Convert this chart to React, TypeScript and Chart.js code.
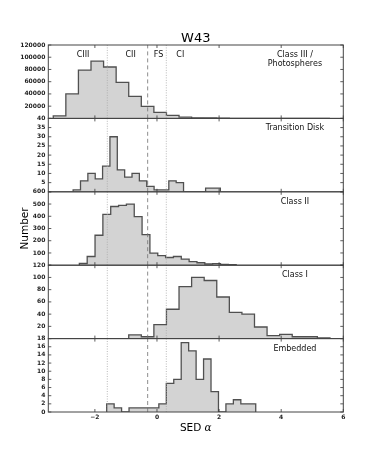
import React, { useEffect, useRef } from "react";
import { Chart, registerables } from "chart.js";
Chart.register(...registerables);

// ---- data ----
const chartTitle = "W43";
const panelNames = [["Class III /", "Photospheres"], ["Transition Disk"], ["Class II"], ["Class I"], ["Embedded"]];
const panelMax = [120000, 40, 600, 120, 18];
const panelStep = [20000, 5, 100, 20, 2];

const binStart = [-3.34, -2.70, -2.50, -3.34, -1.62];
const binWidth = [0.405, 0.237, 0.2525, 0.405, 0.24];

const classIIICounts = [4000, 40000, 79000, 93500, 84000, 59000, 36000, 19500, 9700, 4800, 2000, 1000, 800, 400, 150, 50, 0, 0, 0, 0, 0, 0];
const transitionDiskCounts = [1, 6, 10, 7, 14, 30, 12, 8, 10, 6, 3, 1, 1, 6, 5, 0, 0, 0, 2, 2];
const classIICounts = [14, 71, 245, 415, 480, 489, 500, 397, 250, 98, 79, 63, 71, 50, 30, 20, 10, 13, 7, 4];
const classICounts = [0, 0, 0, 0, 0, 0, 6, 3, 23, 48, 85, 100, 95, 68, 43, 40, 19, 5, 7, 3, 3, 1];
const embeddedCounts = [2, 1, 0, 1, 1, 1, 1, 2, 7, 8, 17, 15, 8, 13, 5, 0, 2, 3, 2, 2];
const panelCounts = [classIIICounts, transitionDiskCounts, classIICounts, classICounts, embeddedCounts];

const xMin = -3.5;
const xMax = 6;
const xTickValues = [-2, 0, 2, 4, 6];

const boundaryValues = [-1.6, -0.3, 0.3];
const boundaryKinds = ["dotted", "dashed", "dotted"];

const regionLabels = ["CIII", "CII", "FS", "CI"];
const regionLabelX = [-2.38, -0.85, 0.05, 0.75];

const xAxisTitle = "SED ";
const xAxisSymbol = "α";
const yAxisTitle = "Number";

const FONT = "'DejaVu Sans', sans-serif";

function histPoints(start: number, width: number, counts: number[]) {
  const pts: { x: number; y: number }[] = [{ x: start, y: 0 }];
  counts.forEach((c, i) => {
    pts.push({ x: start + i * width, y: c });
    pts.push({ x: start + (i + 1) * width, y: c });
  });
  pts.push({ x: start + counts.length * width, y: 0 });
  return pts;
}

const decorPlugin = {
  id: "decor",
  afterDatasetsDraw(chart: any) {
    const ctx = chart.ctx;
    const { left, right } = chart.chartArea;
    const xs = chart.scales.x;
    ctx.save();
    for (let p = 0; p < 5; p++) {
      const ys = chart.scales["y" + p];
      ctx.strokeStyle = "#333";
      ctx.lineWidth = 0.8;
      ctx.beginPath();
      ys.ticks.forEach((t: any) => {
        const y = ys.getPixelForValue(t.value);
        ctx.moveTo(left, y);
        ctx.lineTo(left + 3, y);
        ctx.moveTo(right, y);
        ctx.lineTo(right - 3, y);
      });
      xs.ticks.forEach((t: any) => {
        const x = xs.getPixelForValue(t.value);
        ctx.moveTo(x, ys.top);
        ctx.lineTo(x, ys.top + 3);
        ctx.moveTo(x, ys.bottom);
        ctx.lineTo(x, ys.bottom - 3);
      });
      ctx.stroke();
      ctx.lineWidth = 1;
      ctx.strokeStyle = "#444";
      ctx.strokeRect(left, ys.top, right - left, ys.bottom - ys.top);

      // panel label
      ctx.fillStyle = "#111";
      ctx.font = `8px ${FONT}`;
      ctx.textAlign = "center";
      ctx.textBaseline = "middle";
      const cx = left + (right - left) * 0.836;
      panelNames[p].forEach((line, i) => {
        ctx.fillText(line, cx, ys.top + 10 + i * 9);
      });
      if (p === 0) {
        regionLabels.forEach((lab, i) => {
          ctx.fillText(lab, xs.getPixelForValue(regionLabelX[i]), ys.top + 10);
        });
      }
    }
    ctx.restore();
  },
  afterDraw(chart: any) {
    const ctx = chart.ctx;
    const { left, right, top, bottom } = chart.chartArea;
    ctx.save();
    ctx.fillStyle = "#000";
    ctx.textAlign = "center";
    ctx.textBaseline = "middle";
    ctx.font = `13px ${FONT}`;
    ctx.fillText(chartTitle, (left + right) / 2, 38.5);

    ctx.font = `10.5px ${FONT}`;
    const w1 = ctx.measureText(xAxisTitle).width;
    ctx.font = `italic 10.5px 'DejaVu Serif', serif`;
    const w2 = ctx.measureText(xAxisSymbol).width;
    const sx = (left + right) / 2 - (w1 + w2) / 2;
    ctx.textAlign = "left";
    ctx.font = `10.5px ${FONT}`;
    ctx.fillText(xAxisTitle, sx, 428);
    ctx.font = `italic 10.5px 'DejaVu Serif', serif`;
    ctx.fillText(xAxisSymbol, sx + w1, 428);

    ctx.textAlign = "center";
    ctx.font = `10.5px ${FONT}`;
    ctx.translate(25, (top + bottom) / 2);
    ctx.rotate(-Math.PI / 2);
    ctx.fillText(yAxisTitle, 0, 0);
    ctx.restore();
  },
};

export default function App() {
  const ref = useRef<HTMLCanvasElement>(null);
  useEffect(() => {
    if (!ref.current) return;
    const datasets: any[] = [];
    for (let p = 0; p < 5; p++) {
      datasets.push({
        data: histPoints(binStart[p], binWidth[p], panelCounts[p]),
        yAxisID: "y" + p,
        borderColor: "#505050",
        borderWidth: 1.3,
        backgroundColor: "#d3d3d3",
        fill: "origin",
        pointRadius: 0,
        tension: 0,
        order: 2,
      });
      boundaryValues.forEach((b, i) => {
        const dotted = boundaryKinds[i] === "dotted";
        datasets.push({
          data: [
            { x: b, y: 0 },
            { x: b, y: panelMax[p] },
          ],
          yAxisID: "y" + p,
          borderColor: dotted ? "#a8a8a8" : "#707070",
          borderWidth: 0.8,
          borderDash: dotted ? [1, 1.5] : [4, 3],
          fill: false,
          pointRadius: 0,
          order: 1,
        });
      });
    }
    const scales: any = {
      x: {
        type: "linear",
        min: xMin,
        max: xMax,
        afterBuildTicks: (s: any) => {
          s.ticks = xTickValues.map((v) => ({ value: v }));
        },
        afterFit: (s: any) => {
          s.height = 46;
        },
        grid: { display: false, drawTicks: false },
        border: { display: false },
        ticks: {
          padding: 2,
          color: "#222",
          font: { family: FONT, size: 6, weight: "bold" },
          callback: (v: any) => (v < 0 ? "\u2212" + Math.abs(v) : String(v)),
        },
      },
    };
    // stacked left axes are laid out with the last-defined on top, so add bottom panel first
    for (let p = 4; p >= 0; p--) {
      scales["y" + p] = {
        type: "linear",
        position: "left",
        stack: "panels",
        stackWeight: 1,
        min: 0,
        max: panelMax[p],
        afterFit: (s: any) => {
          s.width = 48.3;
        },
        grid: { display: false, drawTicks: false },
        border: { display: false },
        ticks: {
          stepSize: panelStep[p],
          autoSkip: false,
          padding: 3,
          color: "#222",
          font: { family: FONT, size: 6, weight: "bold" },
          callback: (v: any) => (p < 4 && v === 0 ? "" : String(v)),
        },
      };
    }
    const chart = new Chart(ref.current, {
      type: "line",
      data: { datasets },
      options: {
        responsive: false,
        animation: false,
        parsing: true,
        layout: { padding: { top: 45, left: 0, right: 38.7, bottom: 0 } },
        plugins: { legend: { display: false }, tooltip: { enabled: false }, title: { display: false } },
        scales,
      },
      plugins: [decorPlugin],
    } as any);
    return () => chart.destroy();
  }, []);
  return (
    <div style={{ position: "absolute", left: 0, top: 0, width: 382, height: 458, background: "#fff" }}>
      <canvas ref={ref} width={382} height={458} style={{ width: 382, height: 458 }} />
    </div>
  );
}
